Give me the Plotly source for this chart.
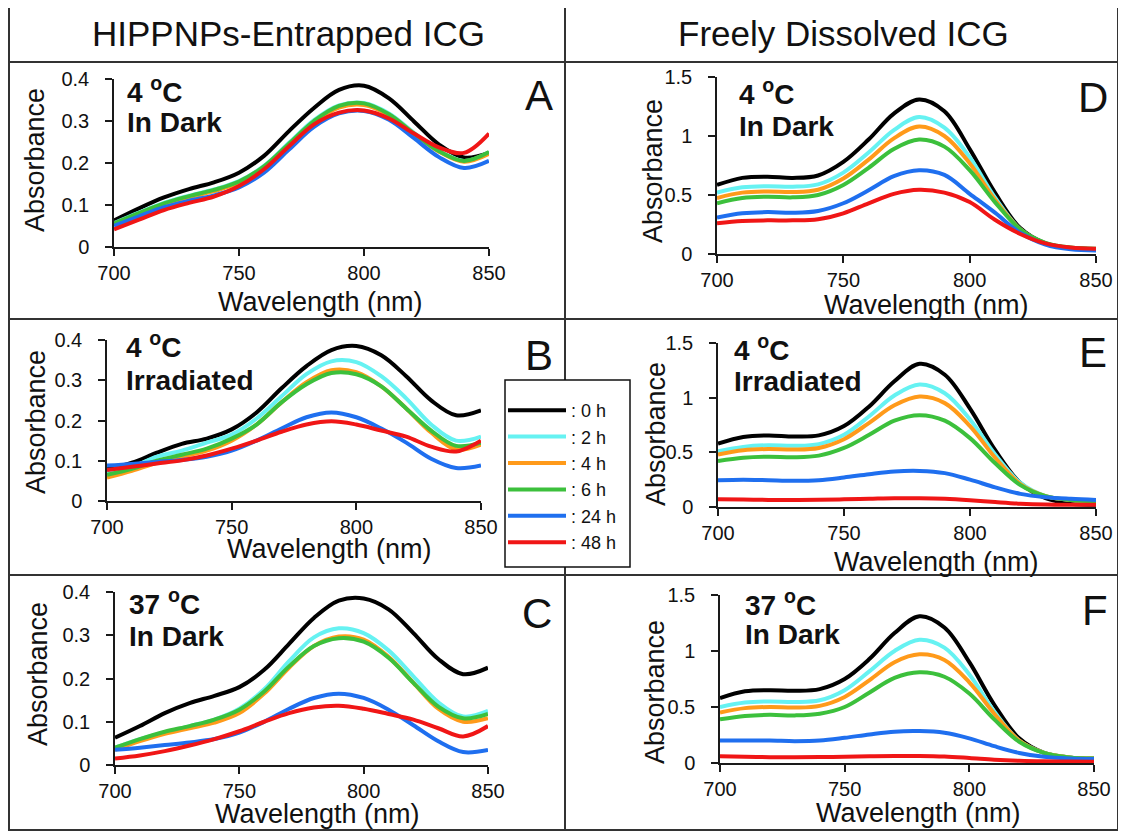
import plotly.graph_objects as go

# the page puts the figure 8 px in from the top-left corner, so the figure is
# made 8 px smaller and every position below is given in window pixels
OFF = 8
W, H = 1126 - OFF, 832 - OFF
FONT = "Liberation Sans, Arial, sans-serif"
TXT = "#111111"
AXC = "#1a1a1a"
BORDER = "#333333"

WAVELENGTH = [700, 710, 720, 730, 740, 750, 760, 770, 780, 790, 800, 810, 820, 830, 840, 850]
HOURS = [": 0 h", ": 2 h", ": 4 h", ": 6 h", ": 24 h", ": 48 h"]
COLORS = ["#000000", "#66F2F2", "#FF9A1A", "#3CC03C", "#1F6FEF", "#F01616"]

# HIPPNPs-entrapped ICG, 4 C in dark
A_0H = [.063, .092, .118, .138, .154, .177, .217, .276, .331, .374, .384, .354, .299, .244, .213, .224]
A_2H = [.057, .082, .105, .122, .137, .157, .193, .248, .302, .337, .343, .318, .272, .229, .205, .225]
A_4H = [.055, .079, .101, .118, .133, .153, .189, .243, .297, .332, .338, .314, .270, .227, .203, .222]
A_6H = [.056, .081, .104, .121, .136, .156, .192, .246, .300, .336, .342, .316, .270, .228, .205, .226]
A_24H = [.050, .073, .095, .110, .123, .142, .177, .232, .286, .318, .324, .303, .259, .214, .188, .205]
A_48H = [.042, .065, .088, .105, .120, .145, .185, .240, .292, .320, .325, .306, .270, .237, .224, .270]

# HIPPNPs-entrapped ICG, 4 C irradiated
B_0H = [.079, .095, .120, .142, .155, .178, .220, .280, .335, .375, .385, .362, .310, .250, .213, .225]
B_2H = [.070, .085, .110, .125, .145, .165, .205, .260, .315, .347, .345, .310, .255, .190, .150, .160]
B_4H = [.058, .075, .095, .110, .125, .150, .190, .245, .295, .325, .320, .285, .230, .170, .128, .140]
B_6H = [.065, .080, .100, .115, .130, .155, .190, .245, .290, .318, .315, .285, .230, .175, .137, .145]
B_24H = [.088, .092, .097, .102, .110, .125, .150, .180, .208, .220, .208, .180, .145, .105, .082, .088]
B_48H = [.077, .085, .093, .101, .113, .130, .150, .172, .190, .198, .190, .175, .160, .135, .123, .150]

# HIPPNPs-entrapped ICG, 37 C in dark
C_0H = [.063, .090, .120, .143, .160, .180, .220, .280, .340, .380, .385, .360, .305, .245, .210, .225]
C_2H = [.040, .060, .075, .090, .105, .130, .175, .240, .295, .316, .305, .265, .205, .145, .112, .125]
C_4H = [.035, .055, .072, .085, .098, .120, .165, .225, .275, .297, .290, .250, .190, .130, .100, .108]
C_6H = [.040, .060, .077, .090, .105, .128, .170, .228, .275, .293, .285, .248, .190, .135, .108, .118]
C_24H = [.035, .040, .046, .052, .060, .075, .100, .130, .155, .165, .155, .128, .092, .055, .030, .035]
C_48H = [.015, .022, .032, .045, .060, .078, .100, .120, .133, .137, .130, .118, .105, .085, .066, .090]

# freely dissolved ICG, 4 C in dark
D_0H = [.585, .645, .655, .645, .665, .78, .97, 1.19, 1.31, 1.21, .89, .52, .22, .09, .05, .04]
D_2H = [.52, .565, .575, .57, .59, .69, .86, 1.05, 1.16, 1.07, .82, .48, .21, .09, .05, .04]
D_4H = [.475, .52, .53, .525, .545, .64, .80, .98, 1.08, 1.0, .77, .46, .21, .09, .05, .04]
D_6H = [.43, .475, .485, .48, .50, .585, .73, .89, .97, .91, .71, .44, .21, .095, .055, .045]
D_24H = [.31, .345, .355, .35, .365, .43, .54, .66, .71, .67, .51, .35, .18, .08, .04, .03]
D_48H = [.26, .28, .285, .285, .295, .345, .43, .51, .545, .52, .44, .29, .17, .09, .055, .045]

# freely dissolved ICG, 4 C irradiated
E_0H = [.58, .64, .655, .645, .655, .74, .92, 1.15, 1.31, 1.21, .90, .52, .22, .08, .03, .02]
E_2H = [.51, .55, .565, .56, .575, .66, .83, 1.02, 1.12, 1.04, .80, .48, .22, .10, .065, .055]
E_4H = [.48, .52, .53, .525, .54, .62, .77, .93, 1.01, .95, .74, .45, .21, .10, .065, .055]
E_6H = [.42, .45, .46, .455, .47, .54, .66, .79, .84, .79, .63, .40, .20, .10, .065, .055]
E_24H = [.245, .25, .245, .24, .245, .27, .30, .325, .33, .31, .25, .18, .12, .09, .075, .065]
E_48H = [.07, .068, .065, .065, .066, .07, .075, .08, .08, .075, .062, .045, .03, .022, .02, .02]

# freely dissolved ICG, 37 C in dark
F_0H = [.58, .64, .65, .645, .66, .75, .93, 1.16, 1.31, 1.21, .90, .52, .22, .09, .05, .04]
F_2H = [.50, .54, .55, .545, .56, .65, .82, 1.0, 1.10, 1.03, .79, .46, .20, .09, .05, .04]
F_4H = [.45, .49, .50, .495, .51, .59, .74, .90, .97, .92, .72, .44, .20, .09, .05, .04]
F_6H = [.39, .42, .43, .425, .44, .50, .63, .76, .81, .77, .62, .39, .19, .09, .05, .04]
F_24H = [.20, .20, .20, .195, .20, .225, .255, .28, .285, .27, .22, .15, .09, .055, .04, .035]
F_48H = [.06, .055, .052, .052, .053, .056, .06, .063, .063, .058, .045, .03, .02, .015, .013, .012]

PANELS = [
    dict(letter="A", cond=("4 <sup>o</sup>C", "In Dark"), series=[A_0H, A_2H, A_4H, A_6H, A_24H, A_48H],
         ymax=0.4, dtick=0.1, box=(114, 489, 79, 247), cond_xy=(125, 90, 122), letter_xy=(539, 96),
         ylab_xy=(35, 160), xlab_xy=(320, 302)),
    dict(letter="B", cond=("4 <sup>o</sup>C", "Irradiated"), series=[B_0H, B_2H, B_4H, B_6H, B_24H, B_48H],
         ymax=0.4, dtick=0.1, box=(107, 481, 340, 501), cond_xy=(124, 345, 380), letter_xy=(539, 355),
         ylab_xy=(36, 422), xlab_xy=(329, 549)),
    dict(letter="C", cond=("37 <sup>o</sup>C", "In Dark"), series=[C_0H, C_2H, C_4H, C_6H, C_24H, C_48H],
         ymax=0.4, dtick=0.1, box=(115, 488, 592, 765), cond_xy=(127, 602, 636), letter_xy=(537, 613),
         ylab_xy=(38, 674), xlab_xy=(317, 814)),
    dict(letter="D", cond=("4 <sup>o</sup>C", "In Dark"), series=[D_0H, D_2H, D_4H, D_6H, D_24H, D_48H],
         ymax=1.5, dtick=0.5, box=(717, 1096, 77, 254), cond_xy=(737, 92, 126), letter_xy=(1093, 97),
         ylab_xy=(653, 171), xlab_xy=(926, 305)),
    dict(letter="E", cond=("4 <sup>o</sup>C", "Irradiated"), series=[E_0H, E_2H, E_4H, E_6H, E_24H, E_48H],
         ymax=1.5, dtick=0.5, box=(718, 1096, 343, 507), cond_xy=(732, 348, 381), letter_xy=(1093, 352),
         ylab_xy=(656, 434), xlab_xy=(937, 562)),
    dict(letter="F", cond=("37 <sup>o</sup>C", "In Dark"), series=[F_0H, F_2H, F_4H, F_6H, F_24H, F_48H],
         ymax=1.5, dtick=0.5, box=(720, 1094, 595, 763), cond_xy=(743, 603, 634), letter_xy=(1095, 610),
         ylab_xy=(655, 692), xlab_xy=(918, 813)),
]


def fx(v):
    return (v - OFF) / W


def fy(v):
    return 1 - (v - OFF) / H


def label(x, y, text, size, **kw):
    return dict(x=fx(x), y=fy(y), xref="paper", yref="paper", text=text, showarrow=False,
                yanchor="middle", font=dict(size=size, color=TXT, family=FONT), **kw)


fig = go.Figure()
layout = {}
annotations = []

for i, p in enumerate(PANELS):
    n = "" if i == 0 else str(i + 1)
    for j, vals in enumerate(p["series"]):
        fig.add_trace(go.Scatter(
            x=WAVELENGTH, y=vals, mode="lines", name=HOURS[j],
            line=dict(color=COLORS[j], width=4, shape="spline", smoothing=1.0),
            xaxis="x" + n, yaxis="y" + n, showlegend=(i == 0), hoverinfo="skip",
        ))
    x0, x1, ytop, ybot = p["box"]
    common = dict(showline=True, linecolor=AXC, linewidth=1.5, ticks="outside", ticklen=7,
                  tickwidth=1.5, tickcolor=AXC, showgrid=False, zeroline=False, automargin=False,
                  tickfont=dict(size=20, color=TXT, family=FONT), fixedrange=True)
    layout["xaxis" + n] = dict(common, domain=[fx(x0), fx(x1)], range=[700, 850],
                               tickvals=[700, 750, 800, 850], anchor="y" + n, ticklabelstandoff=0)
    layout["yaxis" + n] = dict(common, domain=[fy(ybot), fy(ytop)], range=[0, p["ymax"]],
                               dtick=p["dtick"], tick0=0, anchor="x" + n, ticklabelstandoff=12)

    cx, cy1, cy2 = p["cond_xy"]
    annotations.append(label(cx, cy1, "<b>" + p["cond"][0] + "</b>", 28, xanchor="left"))
    annotations.append(label(cx, cy2, "<b>" + p["cond"][1] + "</b>", 28, xanchor="left"))
    lx, ly = p["letter_xy"]
    annotations.append(label(lx, ly, p["letter"], 42, xanchor="center"))
    ax, ay = p["ylab_xy"]
    annotations.append(label(ax, ay, "Absorbance", 27, xanchor="center", textangle=-90))
    bx, by = p["xlab_xy"]
    annotations.append(label(bx, by, "Wavelength (nm)", 27, xanchor="center"))

annotations.append(label(288, 33, "HIPPNPs-Entrapped ICG", 35, xanchor="center"))
annotations.append(label(843, 33, "Freely Dissolved ICG", 35, xanchor="center"))

# frame and cell dividers, then the white legend box over the divider
shapes = [
    dict(type="rect", xref="paper", yref="paper", x0=fx(9), x1=fx(1118), y0=fy(830), y1=fy(5),
         line=dict(color=BORDER, width=2)),
    dict(type="line", xref="paper", yref="paper", x0=fx(565), x1=fx(565), y0=fy(830), y1=fy(5),
         line=dict(color=BORDER, width=2)),
]
for yline in [62, 319, 575]:
    shapes.append(dict(type="line", xref="paper", yref="paper", x0=fx(9), x1=fx(1118),
                       y0=fy(yline), y1=fy(yline), line=dict(color=BORDER, width=2)))
shapes.append(dict(type="rect", xref="paper", yref="paper", x0=fx(505), x1=fx(630),
                   y0=fy(567), y1=fy(380), fillcolor="white", line=dict(color="#111111", width=1.5)))

fig.update_layout(
    width=W, height=H, autosize=False,
    margin=dict(l=0, r=0, t=0, b=0, pad=0, autoexpand=False),
    paper_bgcolor="white", plot_bgcolor="white",
    font=dict(family=FONT, color=TXT),
    annotations=annotations, shapes=shapes,
    legend=dict(x=fx(503), y=fy(392), xanchor="left", yanchor="top",
                bgcolor="rgba(0,0,0,0)", borderwidth=0,
                font=dict(size=18, color=TXT, family=FONT), itemwidth=58),
    **layout,
)

fig.write_html("out.html")
